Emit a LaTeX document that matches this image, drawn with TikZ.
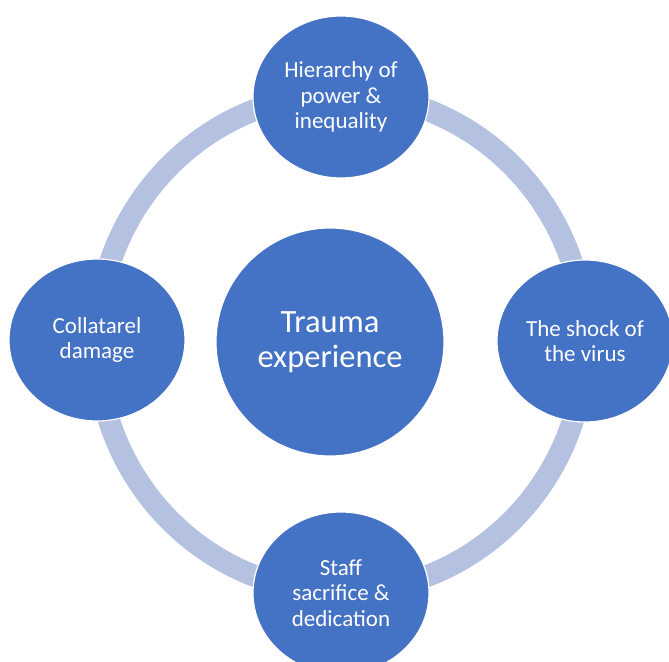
\documentclass[tikz,border=0pt]{standalone}
\usepackage{fontspec}
\setmainfont{Carlito}
\usepackage{tikz}
\usetikzlibrary{shapes.geometric}
\definecolor{hubblue}{HTML}{4472C4}
\definecolor{ringblue}{HTML}{B4C1E1}

\begin{document}
\begin{tikzpicture}[x=1pt,y=-1pt,
  sat/.style={ellipse,draw=white,line width=1.2pt,fill=hubblue,text=white,align=center,inner sep=0pt,minimum width=176pt,minimum height=162pt,font=\fontsize{23}{25.5}\selectfont},
  hub/.style={circle,draw=white,line width=1.2pt,fill=hubblue,text=white,align=center,inner sep=0pt,minimum size=228pt,font=\fontsize{32.5}{35.5}\selectfont},
  ring/.style={draw=ringblue,line width=22pt}]
\useasboundingbox (0,0) rectangle (669,661);
\coordinate (ringc) at (341,343);
\draw[ring] (ringc) ellipse [x radius=244pt,y radius=249pt];
\node[hub] (trauma) at (330,342) {Trauma\\experience};
\node[sat] (hier) at (341,97) {Hierarchy of\\power \&\\inequality};
\node[sat] (shock) at (585,341) {The shock of\\the virus};
\node[sat] (staff) at (341,593) {Staff\\sacrifice \&\\dedication};
\node[sat] (coll) at (97,340) {Collatarel\\damage};
\end{tikzpicture}
\end{document}
